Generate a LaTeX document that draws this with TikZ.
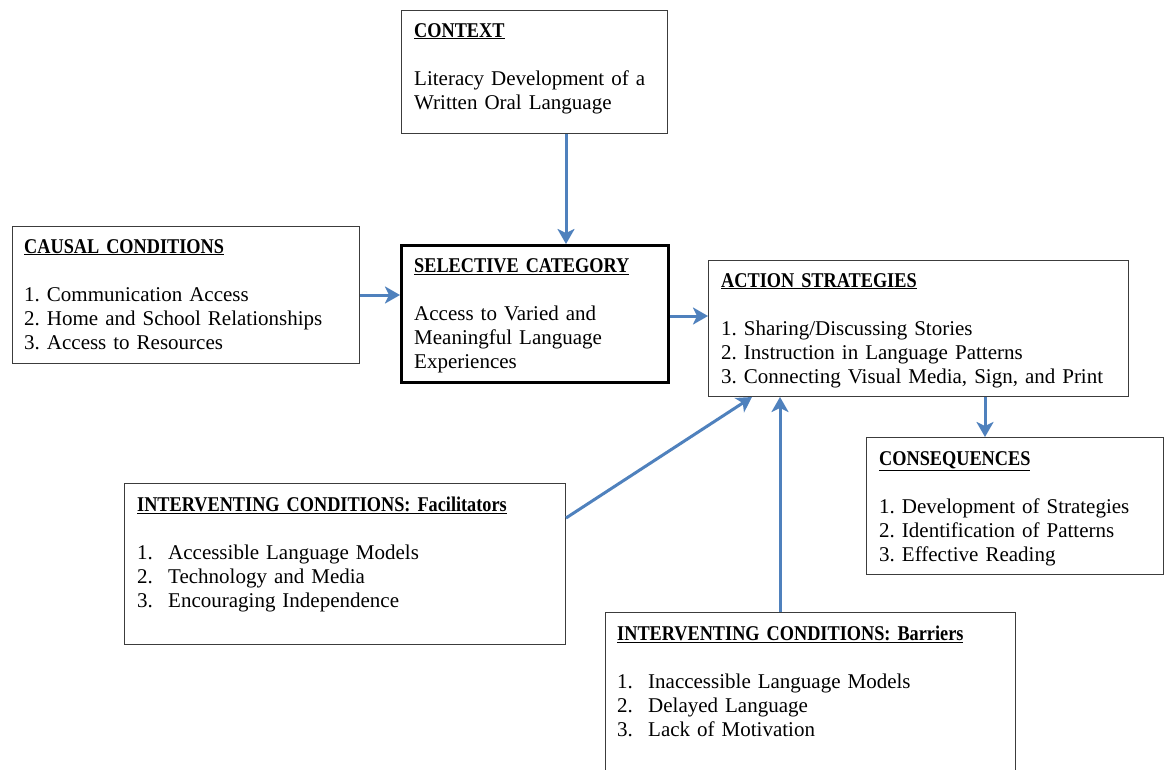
\documentclass[tikz,border=0pt]{standalone}
\usepackage{fontspec}
\setmainfont{Liberation Serif}
\newfontfamily\ttlfont[FakeStretch=0.87]{Liberation Serif}
\usetikzlibrary{arrows.meta,calc}
\definecolor{arrblue}{RGB}{79,129,189}
\definecolor{boxline}{RGB}{60,60,60}
\frenchspacing
\newcommand\ttl[1]{\underline{\ttlfont\bfseries #1}}
\newcommand\itm[1]{\makebox[31pt][l]{#1}}
\begin{document}
\begin{tikzpicture}[x=1pt,y=-1pt,
  box/.style={draw=boxline,line width=1pt,anchor=north west,inner sep=0pt,fill=white},
  selbox/.style={draw=black,line width=3pt,anchor=north west,inner sep=0pt,fill=white},
  txt/.style={anchor=base west,inner sep=0pt,align=left,
    font=\fontsize{21}{24}\selectfont\frenchspacing},
  arr/.style={draw=arrblue,line width=3pt,
    -{Stealth[length=15pt,width=17pt,inset=4pt]}}]
\useasboundingbox[fill=white] (0,0) rectangle (1165,769);

% boxes
\node[box,minimum width=266pt,minimum height=123pt] (ctx) at (401,10) {};
\node[box,minimum width=347pt,minimum height=137pt] (cau) at (12,226) {};
\node[selbox,minimum width=267pt,minimum height=137pt] (sel) at (400,244) {};
\node[box,minimum width=420pt,minimum height=136pt] (act) at (708,260) {};
\node[box,minimum width=297pt,minimum height=137pt] (con) at (866,437) {};
\node[box,minimum width=441pt,minimum height=161pt] (fac) at (124,483) {};
\node[box,minimum width=410pt,minimum height=190pt] (bar) at (605,612) {};

% texts
\node[txt,text width=250pt] (ctxt) at ($(ctx.north west)+(13,27)$)
  {\ttl{CONTEXT}\\[24pt]Literacy Development of a\\Written Oral Language};
\node[txt,text width=330pt] (caut) at ($(cau.north west)+(12,27)$)
  {\ttl{CAUSAL CONDITIONS}\\[24pt]1. Communication Access\\2. Home and School Relationships\\3. Access to Resources};
\node[txt,text width=250pt] (selt) at ($(sel.north west)+(14,28)$)
  {\ttl{SELECTIVE CATEGORY}\\[24pt]Access to Varied and\\Meaningful Language\\Experiences};
\node[txt,text width=405pt] (actt) at ($(act.north west)+(13,27)$)
  {\ttl{ACTION STRATEGIES}\\[24pt]1. Sharing/Discussing Stories\\2. Instruction in Language Patterns\\3. Connecting Visual Media, Sign, and Print};
\node[txt,text width=285pt] (cont) at ($(con.north west)+(13,28)$)
  {\ttl{CONSEQUENCES}\\[24pt]1. Development of Strategies\\2. Identification of Patterns\\3. Effective Reading};
\node[txt,text width=425pt] (fact) at ($(fac.north west)+(13,28)$)
  {\ttl{INTERVENTING CONDITIONS: Facilitators}\\[24pt]\itm{1.}Accessible Language Models\\\itm{2.}Technology and Media\\\itm{3.}Encouraging Independence};
\node[txt,text width=395pt] (bart) at ($(bar.north west)+(12,28)$)
  {\ttl{INTERVENTING CONDITIONS: Barriers}\\[24pt]\itm{1.}Inaccessible Language Models\\\itm{2.}Delayed Language\\\itm{3.}Lack of Motivation};

% connector points
\coordinate (c1) at ($(ctx.south west)+(165,0)$);
\coordinate (s3) at ($(sel.north east)+(0,72)$);
\coordinate (a4) at ($(act.south west)+(277,0)$);
\coordinate (f5) at ($(fac.north east)+(0,35)$);
\coordinate (a5) at ($(act.south west)+(44,0)$);
\coordinate (b6) at ($(bar.north west)+(175,0)$);

% arrows
\draw[arr] (c1) -- (c1 |- sel.north);
\draw[arr] (cau.east) -- (cau.east -| sel.west);
\draw[arr] (s3) -- (s3 -| act.west);
\draw[arr] (a4) -- (a4 |- con.north);
\draw[arr] (f5) -- (a5);
\draw[arr] (b6) -- (b6 |- act.south);
\end{tikzpicture}
\end{document}
